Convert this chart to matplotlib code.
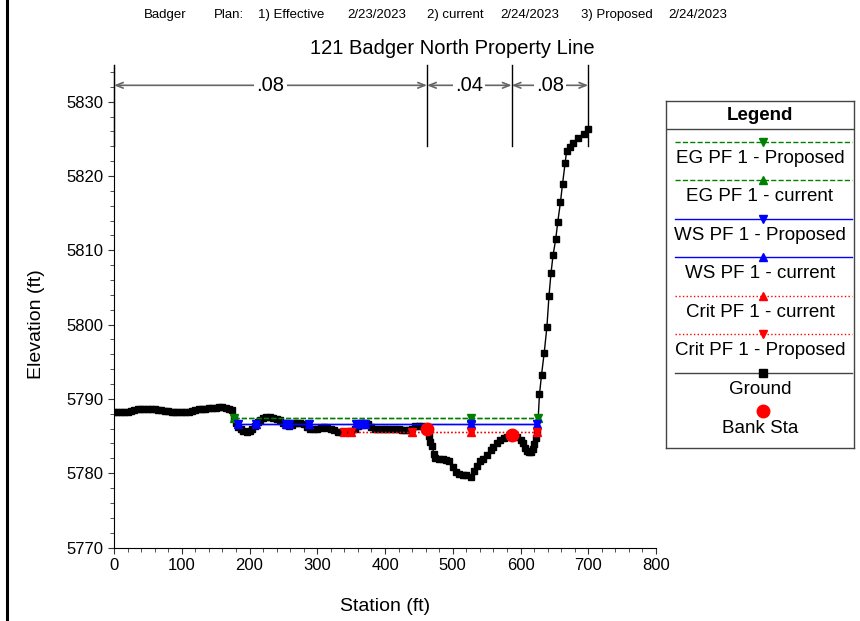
import matplotlib
matplotlib.use("Agg")
import matplotlib.pyplot as plt
import matplotlib.ticker as ticker
from matplotlib.lines import Line2D

plt.rcParams['font.family'] = ['Liberation Sans', 'DejaVu Sans']

# --- data

ground_sta = [0, 5, 10, 15, 20, 25, 30, 35, 40, 45, 50, 55, 60, 65, 70, 75, 80, 85, 90, 95,
              100, 105, 110, 115, 120, 125, 130, 135, 140, 145, 150, 155, 160, 165, 170, 174,
              177, 180, 183, 187, 191, 196, 200, 204, 208, 212, 216, 220, 225, 230, 235, 240,
              245, 250, 254, 258, 262, 266, 270, 275, 280, 285, 290, 295, 300, 305, 310, 315,
              320, 325, 330, 335, 340, 345, 350, 355, 360, 365, 370, 375, 380, 385, 390, 395,
              400, 405, 410, 415, 420, 425, 430, 435, 440, 445, 450, 455, 460, 462, 465, 467,
              470, 472, 474, 480, 485, 490, 495, 500, 505, 509, 515, 520, 527, 532, 536, 540,
              545, 550, 556, 560, 565, 570, 575, 580, 584, 590, 595, 600, 603, 606, 609, 612,
              615, 618, 620, 623, 625, 628, 631, 635, 639, 642, 645, 648, 652, 655, 659, 662,
              666, 668, 673, 678, 685, 693, 700]
ground_elev = [5788.2, 5788.2, 5788.2, 5788.2, 5788.3, 5788.4, 5788.5, 5788.6, 5788.6, 5788.7,
               5788.7, 5788.6, 5788.6, 5788.5, 5788.5, 5788.4, 5788.4, 5788.3, 5788.3, 5788.3,
               5788.2, 5788.2, 5788.3, 5788.4, 5788.5, 5788.6, 5788.7, 5788.7, 5788.8, 5788.8,
               5788.8, 5788.9, 5788.9, 5788.8, 5788.7, 5788.5,
               5787.4, 5786.8, 5786.2, 5785.9, 5785.7, 5785.6, 5785.7, 5785.9, 5786.4, 5786.9,
               5787.2, 5787.4, 5787.5, 5787.5, 5787.4, 5787.3, 5787.1, 5786.8, 5786.5, 5786.3,
               5786.5, 5786.7, 5786.8, 5786.8, 5786.6, 5786.2, 5785.9, 5785.9, 5786.0, 5786.1,
               5786.2, 5786.1, 5786.0, 5785.8, 5785.6, 5785.5, 5785.5, 5785.6, 5785.7, 5786.0,
               5786.4, 5786.7, 5786.8, 5786.6, 5786.2, 5785.9, 5785.9, 5785.9, 5785.9, 5785.9,
               5785.9, 5785.9, 5785.9, 5785.8, 5785.8, 5785.8, 5786.0, 5786.3, 5786.4, 5786.3,
               5786.1, 5785.9, 5785.0, 5784.2, 5783.6, 5782.6, 5782.0, 5781.9, 5781.9, 5781.8,
               5781.7, 5780.9, 5780.2, 5779.9, 5779.8, 5779.7, 5779.5, 5780.3, 5781.0, 5781.6,
               5781.9, 5782.5, 5783.1, 5783.5, 5784.0, 5784.4, 5784.7, 5784.9, 5785.1, 5785.1,
               5784.9, 5784.5, 5784.0, 5783.4, 5783.0, 5782.8, 5782.9, 5783.3, 5783.9, 5784.8,
               5785.5, 5790.6, 5793.2, 5796.2, 5799.7, 5803.8, 5806.9, 5809.3, 5811.5, 5813.8,
               5816.5, 5818.9, 5821.8, 5823.3, 5823.9, 5824.4, 5825.1, 5825.7, 5826.3]

eg_proposed_sta = [177, 527, 626]
eg_proposed_elev = [5787.4, 5787.4, 5787.4]
eg_current_sta = [177, 527, 626]
eg_current_elev = [5787.4, 5787.4, 5787.4]

ws_proposed_sta = [183, 209, 254, 259, 288, 357, 364, 370, 527, 625]
ws_proposed_elev = [5786.6, 5786.6, 5786.6, 5786.6, 5786.6, 5786.6, 5786.6, 5786.6, 5786.6, 5786.6]
ws_current_sta = [183, 209, 254, 259, 288, 357, 364, 370, 527, 625]
ws_current_elev = [5786.6, 5786.6, 5786.6, 5786.6, 5786.6, 5786.6, 5786.6, 5786.6, 5786.6, 5786.6]

crit_current_sta = [339, 350, 440, 527, 624]
crit_current_elev = [5785.5, 5785.5, 5785.5, 5785.5, 5785.5]
crit_proposed_sta = [339, 350, 440, 527, 624]
crit_proposed_elev = [5785.5, 5785.5, 5785.5, 5785.5, 5785.5]

bank_sta = [462, 587]
bank_elev = [5785.9, 5785.1]

# Manning's n regions
n_bounds = [0, 462, 587, 700]
n_values = [".08", ".04", ".08"]

# header pieces (text, left edge in px)
header = [("Badger", 144), ("Plan:", 214), ("1) Effective", 258), ("2/23/2023", 347),
          ("2) current", 427), ("2/24/2023", 500), ("3) Proposed", 581), ("2/24/2023", 668)]

# --- figure
fig = plt.figure(figsize=(8.6, 6.21), dpi=100)
ax = fig.add_axes([114 / 860, 73.5 / 621, 542 / 860, 483 / 621])

ax.plot(ground_sta, ground_elev, color="black", lw=1, marker="s", ms=4.6, zorder=3)

series = [
    (eg_proposed_sta, eg_proposed_elev, "green", "--", "v"),
    (eg_current_sta, eg_current_elev, "green", "--", "^"),
    (ws_proposed_sta, ws_proposed_elev, "blue", "-", "v"),
    (ws_current_sta, ws_current_elev, "blue", "-", "^"),
    (crit_current_sta, crit_current_elev, "red", ":", "^"),
    (crit_proposed_sta, crit_proposed_elev, "red", ":", "v"),
]
for sta, elev, c, ls, m in series:
    ax.plot(sta, elev, color=c, ls=ls, lw=1, marker=m, ms=5.5, zorder=4)

ax.plot(bank_sta, bank_elev, ls="none", marker="o", color="red", ms=9, zorder=5)

# n-value dimension lines
for b in n_bounds:
    ax.plot([b, b], [5824.0, 5835.0], color="black", lw=1, clip_on=False, zorder=2)
for i, txt in enumerate(n_values):
    x0, x1 = n_bounds[i], n_bounds[i + 1]
    ax.annotate("", xy=(x0, 5832.2), xytext=(x1, 5832.2),
                arrowprops=dict(arrowstyle="<->, head_length=0.5, head_width=0.2",
                                color="#666666", lw=1.2, shrinkA=0, shrinkB=0))
    ax.text((x0 + x1) / 2, 5832.2, txt, ha="center", va="center", fontsize=14.5,
            bbox=dict(facecolor="white", edgecolor="none", pad=1.5))

ax.set_xlim(0, 800)
ax.set_ylim(5770, 5835)
ax.set_xticks(range(0, 801, 100))
ax.set_yticks(range(5770, 5831, 10))
ax.yaxis.set_minor_locator(ticker.MultipleLocator(2))
ax.xaxis.set_minor_locator(ticker.MultipleLocator(20))
ax.spines["top"].set_visible(False)
ax.spines["right"].set_visible(False)
ax.tick_params(which="both", direction="out", labelsize=12, length=4, color="#333333")
ax.tick_params(which="minor", length=3)
ax.set_xlabel("Station (ft)", fontsize=14, labelpad=18)
ax.set_ylabel("Elevation (ft)", fontsize=14)
ax.yaxis.set_label_coords(-0.128, 30 / 65)

fig.text(452 / 860, 1 - 48 / 621, "121 Badger North Property Line", ha="center", va="center",
         fontsize=14.5)
for txt, px in header:
    fig.text(px / 860, 1 - 15 / 621, txt, ha="left", va="center", fontsize=9.5)

# left border bar
fig.add_artist(Line2D([6.5 / 860, 6.5 / 860], [0, 1], color="black", lw=2.2))

# --- custom legend box
lax = fig.add_axes([666 / 860, 1 - 448 / 621, 188 / 860, 347 / 621])
lax.set_xlim(0, 1)
lax.set_ylim(347, 0)
lax.set_xticks([])
lax.set_yticks([])
for s in lax.spines.values():
    s.set_color("#444444")
    s.set_linewidth(1)
lax.text(0.5, 14, "Legend", ha="center", va="center", fontsize=13.5, weight="bold")
lax.plot([0, 1], [28.3, 28.3], color="#444444", lw=1)

legend_items = [
    ("EG PF 1 - Proposed", "green", "--", "v"),
    ("EG PF 1 - current", "green", "--", "^"),
    ("WS PF 1 - Proposed", "blue", "-", "v"),
    ("WS PF 1 - current", "blue", "-", "^"),
    ("Crit PF 1 - current", "red", ":", "^"),
    ("Crit PF 1 - Proposed", "red", ":", "v"),
    ("Ground", "#444444", "-", "s"),
]
y = 40.7
for label, c, ls, m in legend_items:
    lax.plot([0.048, 0.99], [y, y], color=c, ls=ls, lw=1)
    lax.plot([0.516], [y], marker=m, color=c if m != "s" else "black", ms=5.5, ls="none")
    lax.text(0.5, y + 16.5, label, ha="center", va="center", fontsize=13.5)
    y += 38.5
lax.plot([0.516], [y], marker="o", color="red", ms=9, ls="none")
lax.text(0.5, y + 17, "Bank Sta", ha="center", va="center", fontsize=13.5)

fig.savefig("out.png", dpi=100, facecolor="white")
